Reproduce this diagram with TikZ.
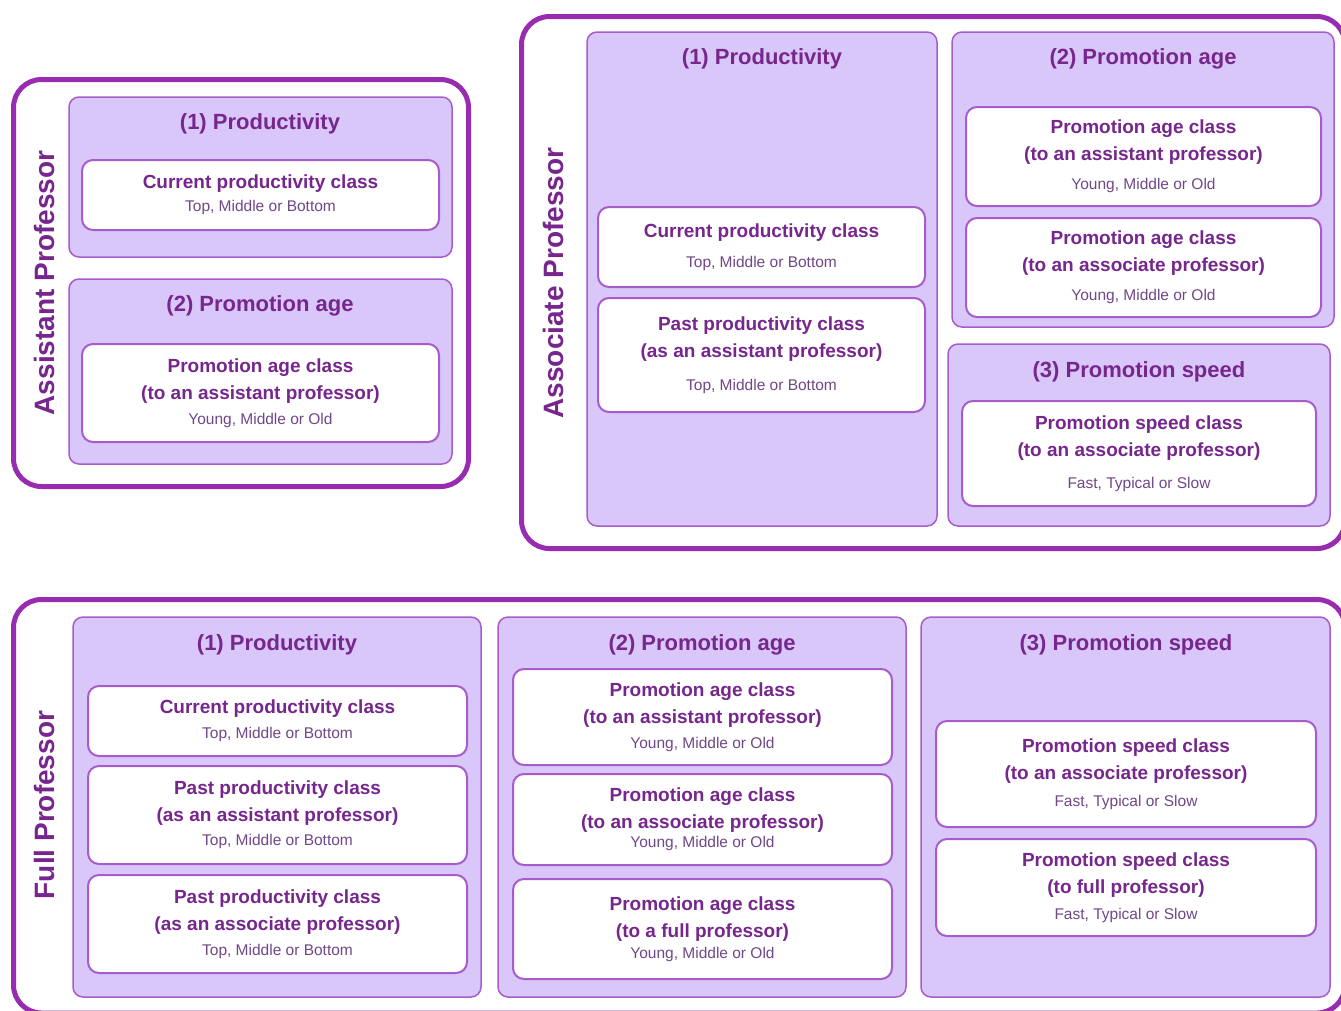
\documentclass[tikz,border=0pt]{standalone}
\usepackage{fontspec}
\setmainfont{Liberation Sans}
\usetikzlibrary{positioning}
\definecolor{outerc}{RGB}{152,44,176}
\definecolor{panelfill}{RGB}{217,199,250}
\definecolor{paneldraw}{RGB}{168,92,204}
\definecolor{txtc}{RGB}{118,38,140}
\definecolor{subc}{RGB}{112,72,136}
\newcommand{\classvals}[1]{{\fontsize{15.5}{20}\selectfont\mdseries\color{subc}#1}}

\begin{document}
\begin{tikzpicture}[x=1pt,y=-1pt]
	\tikzset{outerbox/.style = {shape=rectangle, draw=outerc, line width=5pt, rounded corners=28pt, inner sep=0pt},
		panel/.style = {shape=rectangle, draw=paneldraw, fill=panelfill, line width=1.5pt, rounded corners=10pt, inner sep=0pt},
		classbox/.style = {shape=rectangle, draw=paneldraw, fill=white, line width=2pt, rounded corners=11pt, inner sep=0pt, align=center, text=txtc, font=\fontsize{19}{27}\selectfont\bfseries},
		paneltitle/.style = {text=txtc, font=\fontsize{22}{26}\selectfont\bfseries},
		sidelabel/.style = {rotate=90, text=txtc, font=\fontsize{28}{32}\selectfont\bfseries}}
	\clip (0,0) rectangle (1341,1010);
	
	% Assistant Professor
	\node[outerbox, minimum width=455pt, minimum height=407pt] (ASST) at (241,283) {};
	\node[sidelabel] (ASSTlbl) at (44,283) {Assistant Professor};
	\node[panel, minimum width=383pt, minimum height=160pt] (ASSTprod) at (260.5,177) {};
	\node[paneltitle] (ASSTprodT) at (260,124) {(1) Productivity};
	\node[classbox, minimum width=357pt, minimum height=70pt] (ASSTprodCur) at (260.5,195)
	{Current productivity class \\[-4pt] \classvals{Top, Middle or Bottom}};
	\node[panel, minimum width=383pt, minimum height=185pt] (ASSTage) at (260.5,371.5) {};
	\node[paneltitle] (ASSTageT) at (260,306) {(2) Promotion age};
	\node[classbox, minimum width=357pt, minimum height=98pt] (ASSTageAsst) at (260.5,393)
	{Promotion age class \\ (to an assistant professor) \\[-2pt] \classvals{Young, Middle or Old}};
	
	% Associate Professor
	\node[outerbox, minimum width=823.5pt, minimum height=532pt] (ASSO) at (933.25,282.5) {};
	\node[sidelabel] (ASSOlbl) at (553,283) {Associate Professor};
	\node[panel, minimum width=350pt, minimum height=494pt] (ASSOprod) at (762,279) {};
	\node[paneltitle] (ASSOprodT) at (762,59) {(1) Productivity};
	\node[classbox, minimum width=327pt, minimum height=80pt] (ASSOprodCur) at (761.5,247)
	{Current productivity class \\[3pt] \classvals{Top, Middle or Bottom}};
	\node[classbox, minimum width=327pt, minimum height=114pt] (ASSOprodPast) at (761.5,355)
	{Past productivity class \\ (as an assistant professor) \\[6pt] \classvals{Top, Middle or Bottom}};
	\node[panel, minimum width=382pt, minimum height=295pt] (ASSOage) at (1143,179.5) {};
	\node[paneltitle] (ASSOageT) at (1143,59) {(2) Promotion age};
	\node[classbox, minimum width=355pt, minimum height=99pt] (ASSOageAsst) at (1143.5,156.5)
	{Promotion age class \\ (to an assistant professor) \\[2pt] \classvals{Young, Middle or Old}};
	\node[classbox, minimum width=355pt, minimum height=99pt] (ASSOageAsso) at (1143.5,267.5)
	{Promotion age class \\ (to an associate professor) \\[2pt] \classvals{Young, Middle or Old}};
	\node[panel, minimum width=382pt, minimum height=182pt] (ASSOspd) at (1139,435) {};
	\node[paneltitle] (ASSOspdT) at (1139,372) {(3) Promotion speed};
	\node[classbox, minimum width=354pt, minimum height=105pt] (ASSOspdAsso) at (1139,453.5)
	{Promotion speed class \\ (to an associate professor) \\[5pt] \classvals{Fast, Typical or Slow}};
	
	% Full Professor
	\node[outerbox, minimum width=1331.5pt, minimum height=413.5pt] (FULL) at (679.25,806.25) {};
	\node[sidelabel] (FULLlbl) at (44,805) {Full Professor};
	\node[panel, minimum width=408pt, minimum height=380pt] (FULLprod) at (277,807) {};
	\node[paneltitle] (FULLprodT) at (277,645) {(1) Productivity};
	\node[classbox, minimum width=379pt, minimum height=70pt] (FULLprodCur) at (277.5,721)
	{Current productivity class \\[-2pt] \classvals{Top, Middle or Bottom}};
	\node[classbox, minimum width=379pt, minimum height=98pt] (FULLprodAsst) at (277.5,815)
	{Past productivity class \\ (as an assistant professor) \\[-3pt] \classvals{Top, Middle or Bottom}};
	\node[classbox, minimum width=379pt, minimum height=98pt] (FULLprodAsso) at (277.5,924)
	{Past productivity class \\ (as an associate professor) \\[-2pt] \classvals{Top, Middle or Bottom}};
	\node[panel, minimum width=408pt, minimum height=380pt] (FULLage) at (702,807) {};
	\node[paneltitle] (FULLageT) at (702,645) {(2) Promotion age};
	\node[classbox, minimum width=379pt, minimum height=96pt] (FULLageAsst) at (702.5,717)
	{Promotion age class \\ (to an assistant professor) \\[-2pt] \classvals{Young, Middle or Old}};
	\node[classbox, minimum width=379pt, minimum height=91pt] (FULLageAsso) at (702.5,819.5)
	{Promotion age class \\ (to an associate professor) \\[-8pt] \classvals{Young, Middle or Old}};
	\node[classbox, minimum width=379pt, minimum height=100pt] (FULLageFull) at (702.5,929)
	{Promotion age class \\ (to a full professor) \\[-6pt] \classvals{Young, Middle or Old}};
	\node[panel, minimum width=409pt, minimum height=380pt] (FULLspd) at (1125.5,807) {};
	\node[paneltitle] (FULLspdT) at (1126,645) {(3) Promotion speed};
	\node[classbox, minimum width=380pt, minimum height=106pt] (FULLspdAsso) at (1126,774)
	{Promotion speed class \\ (to an associate professor) \\ \classvals{Fast, Typical or Slow}};
	\node[classbox, minimum width=380pt, minimum height=97pt] (FULLspdFull) at (1126,887.5)
	{Promotion speed class \\ (to full professor) \\[-1pt] \classvals{Fast, Typical or Slow}};
\end{tikzpicture}
\end{document}
